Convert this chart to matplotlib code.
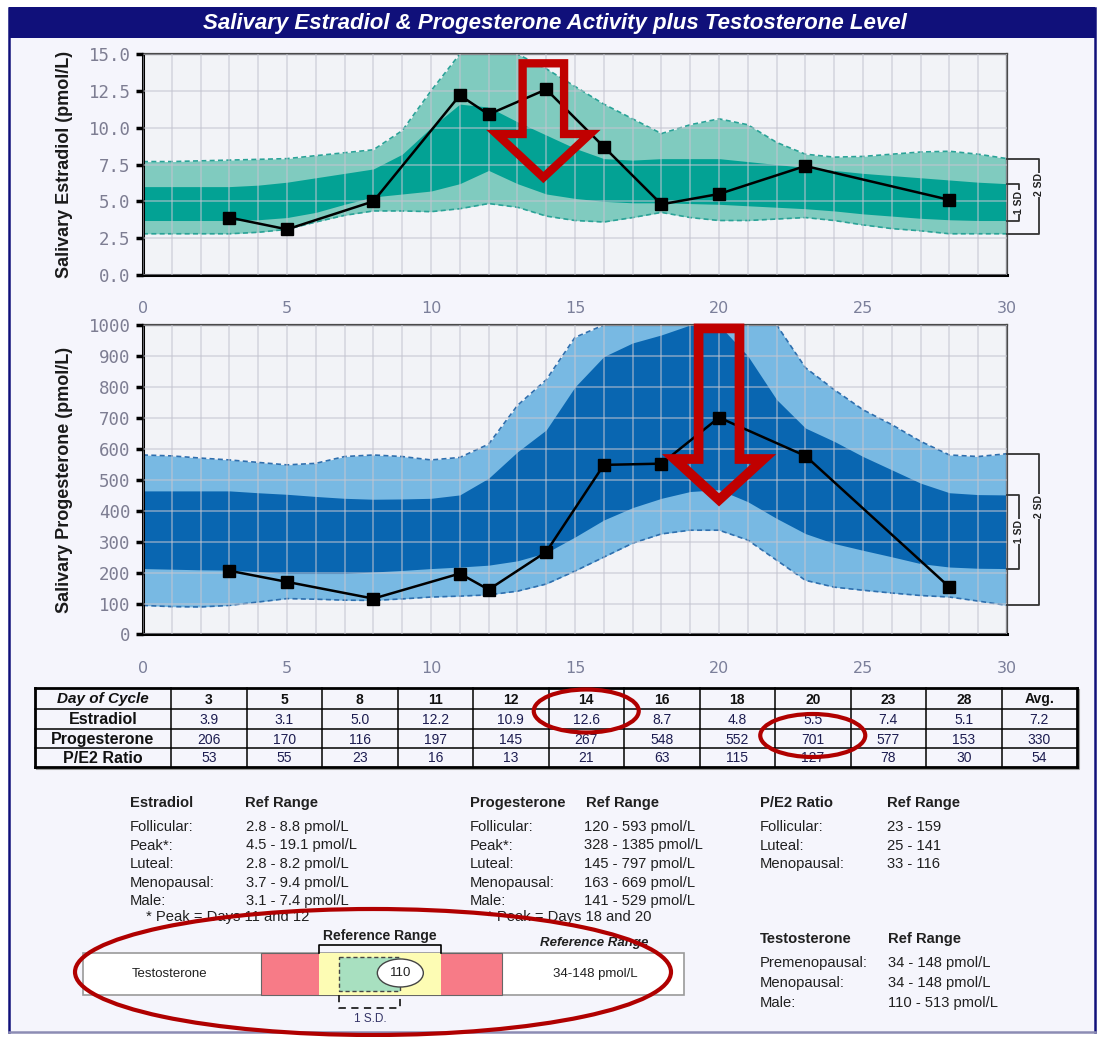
import matplotlib
matplotlib.use('Agg')
import matplotlib.pyplot as plt
from matplotlib.patches import Rectangle, Ellipse, Polygon
import numpy as np

plt.rcParams['font.family'] = ['Liberation Sans', 'DejaVu Sans']

# ---- measured values ----
days = [3, 5, 8, 11, 12, 14, 16, 18, 20, 23, 28]
estradiol = [3.9, 3.1, 5.0, 12.2, 10.9, 12.6, 8.7, 4.8, 5.5, 7.4, 5.1]
progesterone = [206, 170, 116, 197, 145, 267, 548, 552, 701, 577, 153]
pe2_ratio = [53, 55, 23, 16, 13, 21, 63, 115, 127, 78, 30]
avg_estradiol = 7.2
avg_progesterone = 330
avg_ratio = 54

# ---- reference bands (read per cycle day 0..30) ----
band_days = list(range(31))
e2_2sd_hi = [7.7, 7.7, 7.75, 7.8, 7.85, 7.9, 8.1, 8.3, 8.5, 9.8, 12.5, 15, 15, 15, 14.0, 12.8,
             11.6, 10.6, 9.6, 10.2, 10.6, 10.2, 9.0, 8.2, 8.0, 8.05, 8.2, 8.35, 8.4, 8.2, 7.9]
e2_1sd_hi = [6.0, 6.0, 6.0, 6.0, 6.1, 6.3, 6.6, 6.9, 7.2, 8.2, 10.0, 11.6, 11.4, 10.4, 9.5, 8.6,
             7.9, 7.8, 7.9, 7.9, 7.9, 7.7, 7.5, 7.3, 7.1, 6.9, 6.75, 6.6, 6.45, 6.3, 6.2]
e2_1sd_lo = [3.7, 3.7, 3.7, 3.7, 3.75, 3.9, 4.25, 4.8, 5.3, 5.5, 5.7, 6.2, 7.1, 6.2, 5.5, 5.2,
             5.0, 4.9, 4.9, 4.85, 4.8, 4.7, 4.6, 4.5, 4.35, 4.15, 4.0, 3.85, 3.75, 3.7, 3.7]
e2_2sd_lo = [2.8, 2.8, 2.8, 2.8, 2.9, 3.1, 3.6, 4.05, 4.35, 4.35, 4.3, 4.5, 4.85, 4.6, 4.0, 3.7,
             3.6, 3.9, 4.25, 3.9, 3.7, 3.7, 3.8, 3.9, 3.7, 3.4, 3.15, 3.0, 2.8, 2.8, 2.8]

p4_2sd_hi = [580, 577, 570, 564, 556, 548, 553, 575, 580, 575, 564, 572, 615, 740, 823, 960,
             1000, 1000, 1000, 1000, 1000, 1000, 1000, 862, 791, 726, 678, 624, 580, 575, 584]
p4_1sd_hi = [464, 464, 464, 464, 458, 453, 446, 440, 437, 438, 440, 451, 505, 590, 661, 800,
             898, 942, 968, 1000, 1000, 900, 759, 667, 624, 575, 532, 489, 458, 452, 451]
p4_1sd_lo = [213, 211, 209, 208, 203, 197, 197, 197, 202, 207, 213, 218, 224, 238, 264, 315,
             370, 410, 440, 462, 468, 429, 375, 326, 294, 272, 251, 229, 218, 214, 213]
p4_2sd_lo = [94, 90, 89, 94, 105, 116, 114, 111, 110, 115, 121, 124, 128, 140, 163, 205,
             250, 295, 325, 337, 337, 305, 240, 175, 153, 143, 134, 126, 121, 108, 94]

# ---- reference range texts ----
e2_ref = [("Follicular:", "2.8 - 8.8 pmol/L"), ("Peak*:", "4.5 - 19.1 pmol/L"),
          ("Luteal:", "2.8 - 8.2 pmol/L"), ("Menopausal:", "3.7 - 9.4 pmol/L"),
          ("Male:", "3.1 - 7.4 pmol/L")]
p4_ref = [("Follicular:", "120 - 593 pmol/L"), ("Peak*:", "328 - 1385 pmol/L"),
          ("Luteal:", "145 - 797 pmol/L"), ("Menopausal:", "163 - 669 pmol/L"),
          ("Male:", "141 - 529 pmol/L")]
ratio_ref = [("Follicular:", "23 - 159"), ("Luteal:", "25 - 141"), ("Menopausal:", "33 - 116")]
testo_ref = [("Premenopausal:", "34 - 148 pmol/L"), ("Menopausal:", "34 - 148 pmol/L"),
             ("Male:", "110 - 513 pmol/L")]
testosterone = 110
testo_range = (34, 148)
testo_1sd = (53, 110)

NAVY = '#10107a'
BG = '#f5f5fc'
RED = '#c00000'

fig = plt.figure(figsize=(11, 10.37), dpi=100)
fig.patch.set_facecolor('white')

# background layer in pixel coordinates
bg = fig.add_axes([0, 0, 1, 1], zorder=0)
bg.set_xlim(0, 1100)
bg.set_ylim(1037, 0)
bg.axis('off')
bg.add_patch(Rectangle((9, 8), 1086, 1024, facecolor=BG, edgecolor='none'))
bg.plot([9, 9], [8, 1032], color=NAVY, lw=1.8)
bg.plot([1095, 1095], [8, 1032], color=NAVY, lw=1.8)
bg.plot([9, 1095], [1032, 1032], color='#8c8cb4', lw=1.8)
bg.add_patch(Rectangle((9, 7), 1086, 31, facecolor=NAVY, edgecolor='none'))
bg.text(555, 23, "Salivary Estradiol & Progesterone Activity plus Testosterone Level",
        color='white', fontsize=16, fontweight='bold', fontstyle='italic',
        ha='center', va='center')


def down_arrow(ax, cx, w, hw, top, neck, tip, lw):
    pts = [(cx - w, top), (cx + w, top), (cx + w, neck), (cx + hw, neck),
           (cx, tip), (cx - hw, neck), (cx - w, neck)]
    ax.add_patch(Polygon(pts, closed=True, facecolor='none', edgecolor=RED, lw=lw,
                         joinstyle='miter', zorder=10, clip_on=False))


def chart(rect, ylim, yticks, yfmt, vals, lo2, lo1, hi1, hi2, light, dark, edge, ylabel):
    ax = fig.add_axes(rect, zorder=2)
    ax.set_facecolor('#f2f3f7')
    ax.fill_between(band_days, lo2, hi2, color=light, lw=0, zorder=1)
    ax.fill_between(band_days, lo1, hi1, color=dark, lw=0, zorder=1.1)
    for edge_vals in (lo2, hi2):
        ax.plot(band_days, edge_vals, color=edge, lw=1.2, ls=(0, (3, 2)), zorder=1.2)
    ax.plot(days, vals, color='black', lw=1.8, marker='s', ms=8.5, zorder=5)
    ax.set_xlim(0, 30)
    ax.set_ylim(*ylim)
    ax.set_axisbelow(False)
    ax.set_xticks(range(0, 31, 5))
    ax.set_xticks(range(31), minor=True)
    ax.set_xticklabels([str(d) for d in range(0, 31, 5)], fontfamily='DejaVu Sans')
    ax.set_yticks(yticks)
    ax.set_yticklabels([yfmt % t for t in yticks], fontfamily='DejaVu Sans Mono')
    ax.grid(which='both', axis='x', color='#c4c5d0', lw=1.1, alpha=0.65)
    ax.grid(which='major', axis='y', color='#c4c5d0', lw=1.1, alpha=0.65)
    ax.tick_params(axis='x', which='both', length=0, pad=19, labelsize=11.5,
                   labelcolor='#7b7f9a')
    ax.tick_params(axis='y', which='major', direction='out', length=5, width=2.5,
                   color='black', pad=4, labelsize=12.5, labelcolor='#7d7d92')
    for s in ('left', 'bottom'):
        ax.spines[s].set_linewidth(2.2)
        ax.spines[s].set_color('black')
    for s in ('top', 'right'):
        ax.spines[s].set_linewidth(1.6)
        ax.spines[s].set_color('#4a4a4a')
    ax.text(-0.091, 0.5, ylabel, transform=ax.transAxes, rotation=90, ha='center',
            va='center', fontsize=13, fontweight='bold', color='#1a1a1a')
    # SD brackets on the right
    x_in, x_out = 30.4, 31.1
    ax.plot([30, x_in, x_in, 30], [hi1[-1], hi1[-1], lo1[-1], lo1[-1]],
            color='#333333', lw=1.3, clip_on=False, zorder=6)
    ax.plot([30, x_out, x_out, 30], [hi2[-1], hi2[-1], lo2[-1], lo2[-1]],
            color='#333333', lw=1.3, clip_on=False, zorder=6)
    span = hi2[-1] - lo2[-1]
    ax.text(x_in, (hi1[-1] + lo1[-1]) / 2, '1 SD', rotation=90, ha='center', va='center',
            fontsize=7.5, fontweight='bold', color='#222222', zorder=7,
            bbox=dict(fc=BG, ec='none', pad=0.6))
    ax.text(x_out, (hi2[-1] + lo2[-1]) / 2 + 0.15 * span, '2 SD', rotation=90,
            ha='center', va='center', fontsize=7.5, fontweight='bold', color='#222222',
            zorder=7, bbox=dict(fc=BG, ec='none', pad=0.6))
    return ax


ax1 = chart([0.1300, 0.7348, 0.7855, 0.2131], (0, 15), np.arange(0, 15.01, 2.5), '%.1f',
            estradiol, e2_2sd_lo, e2_1sd_lo, e2_1sd_hi, e2_2sd_hi,
            '#80cbbf', '#03a294', '#2aa297', 'Salivary Estradiol (pmol/L)')
down_arrow(ax1, 13.9, 0.72, 1.62, 14.37, 9.57, 6.62, 6)

ax2 = chart([0.1300, 0.38814, 0.7855, 0.29846], (0, 1000), np.arange(0, 1001, 100), '%d',
            progesterone, p4_2sd_lo, p4_1sd_lo, p4_1sd_hi, p4_2sd_hi,
            '#78b9e3', '#0966b1', '#2f6fae', 'Salivary Progesterone (pmol/L)')
down_arrow(ax2, 20.0, 0.71, 1.55, 989, 567, 435, 7)

# ---- data table ----
t_left, t_split, t_right = 35, 171, 1077
rows_y = [688, 709, 729, 748, 767]
ncol = len(days) + 1
cw = (t_right - t_split) / ncol
bg.plot([t_left + 2, t_right + 2, t_right + 2], [rows_y[-1] + 2, rows_y[-1] + 2, rows_y[0] + 2],
        color='#9a9a9a', lw=1.5)
for i, yv in enumerate(rows_y):
    bg.plot([t_left, t_right], [yv, yv], color='black',
            lw=2 if i in (0, len(rows_y) - 1) else 1.1)
bg.plot([t_left, t_left], [rows_y[0], rows_y[-1]], color='black', lw=2)
bg.plot([t_right, t_right], [rows_y[0], rows_y[-1]], color='black', lw=2)
for j in range(ncol):
    xv = t_split + j * cw
    bg.plot([xv, xv], [rows_y[0], rows_y[-1]], color='black', lw=1.1)

table_rows = [
    ("Day of Cycle", [str(d) for d in days] + ["Avg."]),
    ("Estradiol", ['%.1f' % v for v in estradiol] + ['%.1f' % avg_estradiol]),
    ("Progesterone", [str(v) for v in progesterone] + [str(avg_progesterone)]),
    ("P/E2 Ratio", [str(v) for v in pe2_ratio] + [str(avg_ratio)]),
]
for r, (name, cells) in enumerate(table_rows):
    yc = (rows_y[r] + rows_y[r + 1]) / 2 + 1
    bg.text((t_left + t_split) / 2, yc, name, ha='center', va='center',
            fontsize=11 if r == 0 else 11.5,
            fontweight='bold', fontstyle='italic' if r == 0 else 'normal', color='#111111')
    for j, c in enumerate(cells):
        bg.text(t_split + (j + 0.5) * cw, yc, c, ha='center', va='center', fontsize=10,
                fontweight='bold' if r == 0 else 'normal',
                color='#111111' if r == 0 else '#1c1c50')

# highlighted cells
for row_idx, day, dy in ((1, 14, -8), (2, 20, -3)):
    j = days.index(day)
    yc = (rows_y[row_idx] + rows_y[row_idx + 1]) / 2 + dy
    bg.add_patch(Ellipse((t_split + (j + 0.5) * cw, yc), 105, 43, facecolor='none',
                         edgecolor='#b00000', lw=3, zorder=8))

# ---- reference ranges ----
TXT = '#202020'
FS = 10.6


def ref_block(x_lab, x_val, y0, title, rows, step=18.5, x_hdr=None):
    bg.text(x_lab, y0, title, ha='left', va='center', fontsize=FS, fontweight='bold', color=TXT)
    bg.text(x_hdr if x_hdr else x_val, y0, "Ref Range", ha='left', va='center',
            fontsize=FS, fontweight='bold', color=TXT)
    for k, (lab, val) in enumerate(rows):
        yk = y0 + 24 + k * step
        bg.text(x_lab, yk, lab, ha='left', va='center', fontsize=FS, color=TXT)
        bg.text(x_val, yk, val, ha='left', va='center', fontsize=FS, color=TXT)


ref_block(130, 246, 803, "Estradiol", e2_ref, x_hdr=245)
bg.text(146, 917, "* Peak = Days 11 and 12", ha='left', va='center', fontsize=FS, color=TXT)
ref_block(470, 584, 803, "Progesterone", p4_ref, x_hdr=586)
bg.text(487, 917, "* Peak = Days 18 and 20", ha='left', va='center', fontsize=FS, color=TXT)
ref_block(760, 887, 803, "P/E2 Ratio", ratio_ref)
ref_block(760, 888, 939, "Testosterone", testo_ref, step=20)

# ---- testosterone bar ----
def tpx(v):
    return 319 + (v - testo_range[0]) * 122 / (testo_range[1] - testo_range[0])


bar_top, bar_h = 953, 42
bg.add_patch(Rectangle((83, bar_top), 601, bar_h, facecolor='white', edgecolor='#9a9a9a',
                       lw=1.2, zorder=2))
red_l, red_r = tpx(testo_range[0]) - 58, tpx(testo_range[1]) + 61
bg.add_patch(Rectangle((red_l, bar_top), red_r - red_l, bar_h, facecolor='#f77b87',
                       edgecolor='#666666', lw=0.8, zorder=3))
bg.add_patch(Rectangle((tpx(testo_range[0]), bar_top), tpx(testo_range[1]) - tpx(testo_range[0]),
                       bar_h, facecolor='#fdfcb4', edgecolor='none', zorder=4))
g0, g1 = tpx(testo_1sd[0]), tpx(testo_1sd[1])
bg.add_patch(Rectangle((g0, bar_top + 4), g1 - g0, bar_h - 8, facecolor='#a8e0c0',
                       edgecolor='#444444', lw=1, ls=(0, (3, 2)), zorder=5))
bg.add_patch(Ellipse((tpx(testosterone), 973), 46, 28, facecolor='white', edgecolor='#444444',
                     lw=1, zorder=6))
bg.text(tpx(testosterone), 973, str(testosterone), ha='center', va='center', fontsize=9.5,
        color=TXT, zorder=7)
bg.text(170, 974, "Testosterone", ha='center', va='center', fontsize=9.5, color=TXT, zorder=7)
bg.text(595, 974, "%d-%d pmol/L" % testo_range, ha='center', va='center', fontsize=9.5,
        color=TXT, zorder=7)
bg.text(594, 943, "Reference Range", ha='center', va='center', fontsize=9.5, fontweight='bold',
        fontstyle='italic', color=TXT, zorder=7)
rx0, rx1 = tpx(testo_range[0]), tpx(testo_range[1])
bg.text((rx0 + rx1) / 2, 936, "Reference Range", ha='center', va='center', fontsize=10,
        fontweight='bold', color=TXT, zorder=7)
bg.plot([rx0, rx0, rx1, rx1], [bar_top, 945, 945, bar_top], color='black', lw=1.2, zorder=7)
bg.plot([g0, g0, g1, g1], [bar_top + bar_h, 1008, 1008, bar_top + bar_h], color='#222222',
        lw=1.3, ls=(0, (4, 3)), zorder=7)
bg.text((g0 + g1) / 2, 1019, "1 S.D.", ha='center', va='center', fontsize=8.5,
        color='#333366', zorder=7)
bg.add_patch(Ellipse((373, 972), 596, 126, facecolor='none', edgecolor='#b00000', lw=3,
                     zorder=9))

fig.savefig('out.png', dpi=100, facecolor=fig.get_facecolor())
